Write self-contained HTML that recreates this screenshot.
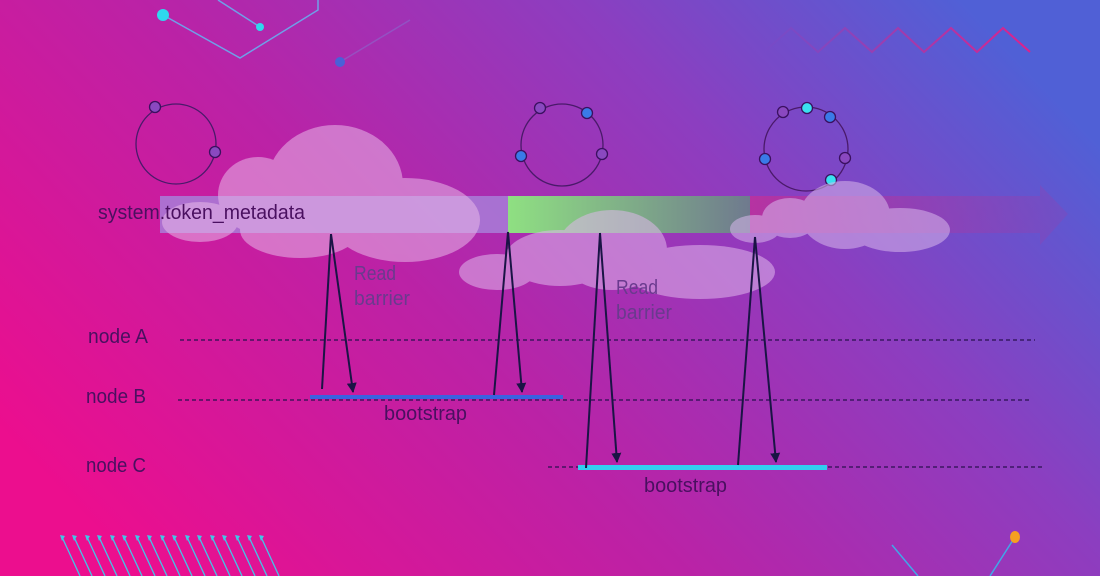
<!DOCTYPE html>
<html><head><meta charset="utf-8"><style>
html,body{margin:0;padding:0;width:1100px;height:576px;overflow:hidden}
svg{display:block}
text{font-family:"Liberation Sans",sans-serif}
</style></head><body>
<svg width="1100" height="576" viewBox="0 0 1100 576" xmlns="http://www.w3.org/2000/svg">
<defs>
<linearGradient id="bg" x1="0" y1="0.75" x2="1" y2="0.25">
<stop offset="0" stop-color="#ec0e8e"/>
<stop offset="0.4" stop-color="#bb22a6"/>
<stop offset="0.72" stop-color="#8c3ec0"/>
<stop offset="1" stop-color="#5060d6"/>
</linearGradient>
<linearGradient id="green" x1="0" x2="1">
<stop offset="0" stop-color="#8fe082"/>
<stop offset="1" stop-color="#6f7a8e"/>
</linearGradient>
<linearGradient id="tail" x1="0" x2="1">
<stop offset="0" stop-color="#c0309a" stop-opacity="0.8"/>
<stop offset="1" stop-color="#9040b0" stop-opacity="0.3"/>
</linearGradient>
<linearGradient id="zz" x1="0" x2="1">
<stop offset="0" stop-color="#e0208a" stop-opacity="0"/>
<stop offset="1" stop-color="#e0208a"/>
</linearGradient>
<marker id="ah" viewBox="0 0 10 10" refX="9" refY="5" markerWidth="5" markerHeight="6" orient="auto"><path d="M0,0 L10,5 L0,10 z" fill="#1a1445"/></marker>
</defs>
<rect width="1100" height="576" fill="url(#bg)"/>
<g stroke="#6fa0e8" stroke-width="1.5" fill="none">
<polyline points="163,15 240,58 318,10 318,0"/>
<line x1="218" y1="0" x2="260" y2="27"/>
<line x1="340" y1="62" x2="410" y2="20" stroke-opacity="0.3"/>
</g>
<circle cx="163" cy="15" r="6" fill="#2fd8ee"/>
<circle cx="260" cy="27" r="4" fill="#2fd8ee"/>
<circle cx="340" cy="62" r="5" fill="#4a60d8"/>
<polyline points="764,52 791,28 818,52 845,28 872,52 898,28 924,52 951,28 977,52 1003,28 1030,52" fill="none" stroke="url(#zz)" stroke-width="2"/>
<g fill="none" stroke="#4a1a6a" stroke-width="1.3">
<circle cx="176" cy="144" r="40"/>
<circle cx="562" cy="145" r="41"/>
<circle cx="806" cy="149" r="42"/>
</g>
<g stroke="#3a1060" stroke-width="1.3">
<circle cx="155" cy="107" r="5.5" fill="#8a48c0"/>
<circle cx="215" cy="152" r="5.5" fill="#8a48c0"/>
<circle cx="540" cy="108" r="5.5" fill="#8a48c0"/>
<circle cx="587" cy="113" r="5.5" fill="#3a7ae8"/>
<circle cx="521" cy="156" r="5.5" fill="#3a7ae8"/>
<circle cx="602" cy="154" r="5.5" fill="#8a48c0"/>
<circle cx="783" cy="112" r="5.5" fill="#8a48c0"/>
<circle cx="807" cy="108" r="5.5" fill="#3ae0f0"/>
<circle cx="830" cy="117" r="5.5" fill="#3a7ae8"/>
<circle cx="765" cy="159" r="5.5" fill="#3a7ae8"/>
<circle cx="845" cy="158" r="5.5" fill="#8a48c0"/>
<circle cx="831" cy="180" r="5.5" fill="#3ae0f0"/>
</g>
<rect x="160" y="196" width="350" height="37" fill="#a87ed8" opacity="0.85"/>
<rect x="508" y="196" width="242" height="37" fill="url(#green)"/>
<path d="M750,196 L1040,196 L1040,185 L1068,214 L1040,245 L1040,233 L750,233z" fill="url(#tail)"/>
<g fill="#e8b8e8" opacity="0.55">
<ellipse cx="200" cy="222" rx="38" ry="20"/>
<ellipse cx="258" cy="195" rx="40" ry="38"/>
<ellipse cx="335" cy="185" rx="68" ry="60"/>
<ellipse cx="405" cy="220" rx="75" ry="42"/>
<ellipse cx="300" cy="230" rx="60" ry="28"/>
</g>
<g fill="#e0b8ec" opacity="0.55">
<ellipse cx="497" cy="272" rx="38" ry="18"/>
<ellipse cx="560" cy="258" rx="55" ry="28"/>
<ellipse cx="612" cy="250" rx="55" ry="40"/>
<ellipse cx="700" cy="272" rx="75" ry="27"/>
</g>
<g fill="#d8b8ec" opacity="0.55">
<ellipse cx="755" cy="229" rx="25" ry="14"/>
<ellipse cx="790" cy="218" rx="28" ry="20"/>
<ellipse cx="845" cy="215" rx="45" ry="34"/>
<ellipse cx="900" cy="230" rx="50" ry="22"/>
</g>
<text x="98" y="219" font-size="20" fill="#4a1060" textLength="207" lengthAdjust="spacingAndGlyphs">system.token_metadata</text>
<g font-size="20" fill="#6a3a8e">
<text x="354" y="280" textLength="42" lengthAdjust="spacingAndGlyphs">Read</text>
<text x="354" y="305" textLength="56" lengthAdjust="spacingAndGlyphs">barrier</text>
<text x="616" y="294" textLength="42" lengthAdjust="spacingAndGlyphs">Read</text>
<text x="616" y="319" textLength="56" lengthAdjust="spacingAndGlyphs">barrier</text>
</g>
<g stroke="#2a1050" stroke-width="1.3" stroke-dasharray="4,3">
<line x1="180" y1="340" x2="1035" y2="340"/>
<line x1="178" y1="400" x2="1032" y2="400"/>
<line x1="548" y1="467" x2="1045" y2="467"/>
</g>
<rect x="310" y="395" width="253" height="4" fill="#3a62e0"/>
<rect x="578" y="465" width="249" height="5" fill="#32cff0"/>
<g font-size="20" fill="#4a1060">
<text x="88" y="343" textLength="60" lengthAdjust="spacingAndGlyphs">node A</text>
<text x="86" y="403" textLength="60" lengthAdjust="spacingAndGlyphs">node B</text>
<text x="86" y="472" textLength="60" lengthAdjust="spacingAndGlyphs">node C</text>
<text x="384" y="420" textLength="83" lengthAdjust="spacingAndGlyphs">bootstrap</text>
<text x="644" y="492" textLength="83" lengthAdjust="spacingAndGlyphs">bootstrap</text>
</g>
<g stroke="#1a1445" stroke-width="2" fill="none">
<polyline points="322,389 331,234"/><polyline points="331,234 353,392" marker-end="url(#ah)"/>
<polyline points="494,395 508,232"/><polyline points="508,232 522,392" marker-end="url(#ah)"/>
<polyline points="586,468 600,233"/><polyline points="600,233 617,462" marker-end="url(#ah)"/>
<polyline points="738,465 755,237"/><polyline points="755,237 776,462" marker-end="url(#ah)"/>
</g>
<g stroke="#40c8e8" stroke-width="1.3">
<line x1="62" y1="537" x2="80" y2="576"/><line x1="74" y1="537" x2="92" y2="576"/>
<line x1="87" y1="537" x2="105" y2="576"/><line x1="99" y1="537" x2="117" y2="576"/>
<line x1="112" y1="537" x2="130" y2="576"/><line x1="124" y1="537" x2="142" y2="576"/>
<line x1="137" y1="537" x2="155" y2="576"/><line x1="149" y1="537" x2="167" y2="576"/>
<line x1="162" y1="537" x2="180" y2="576"/><line x1="174" y1="537" x2="192" y2="576"/>
<line x1="187" y1="537" x2="205" y2="576"/><line x1="199" y1="537" x2="217" y2="576"/>
<line x1="212" y1="537" x2="230" y2="576"/><line x1="224" y1="537" x2="242" y2="576"/>
<line x1="237" y1="537" x2="255" y2="576"/><line x1="249" y1="537" x2="267" y2="576"/>
<line x1="261" y1="537" x2="279" y2="576"/>
</g>
<g fill="#40c8e8">
<path d="M60,535 l5,1 l-3,5z"/><path d="M72,535 l5,1 l-3,5z"/><path d="M85,535 l5,1 l-3,5z"/><path d="M97,535 l5,1 l-3,5z"/><path d="M110,535 l5,1 l-3,5z"/><path d="M122,535 l5,1 l-3,5z"/><path d="M135,535 l5,1 l-3,5z"/><path d="M147,535 l5,1 l-3,5z"/><path d="M160,535 l5,1 l-3,5z"/><path d="M172,535 l5,1 l-3,5z"/><path d="M185,535 l5,1 l-3,5z"/><path d="M197,535 l5,1 l-3,5z"/><path d="M210,535 l5,1 l-3,5z"/><path d="M222,535 l5,1 l-3,5z"/><path d="M235,535 l5,1 l-3,5z"/><path d="M247,535 l5,1 l-3,5z"/><path d="M259,535 l5,1 l-3,5z"/>
</g>
<g stroke="#40a8e8" stroke-width="1.5">
<line x1="892" y1="545" x2="918" y2="576"/>
<line x1="1013" y1="540" x2="990" y2="576"/>
</g>
<ellipse cx="1015" cy="537" rx="5" ry="6" fill="#f5a020"/>
</svg>
</body></html>
